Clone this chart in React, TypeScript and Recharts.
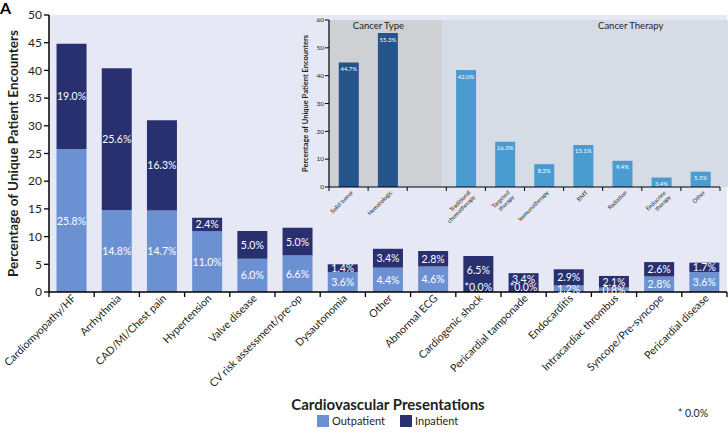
import { BarChart, Bar, XAxis, YAxis, CartesianGrid, Legend, LabelList, ReferenceArea, Cell } from 'recharts';

// main chart
const categories = [
    'Cardiomyopathy/HF', 'Arrhythmia', 'CAD/MI/Chest pain', 'Hypertension', 'Valve disease',
    'CV risk assessment/pre-op', 'Dysautonomia', 'Other', 'Abnormal ECG', 'Cardiogenic shock',
    'Pericardial tamponade', 'Endocarditis', 'Intracardiac thrombus', 'Syncope/Pre-syncope', 'Pericardial disease',
];
const outpatient = [25.8, 14.8, 14.7, 11.0, 6.0, 6.6, 3.6, 4.4, 4.6, 0.0, 0.0, 1.2, 0.8, 2.8, 3.6];
const inpatient = [19.0, 25.6, 16.3, 2.4, 5.0, 5.0, 1.4, 3.4, 2.8, 6.5, 3.4, 2.9, 2.1, 2.6, 1.7];
const yTicks = [0, 5, 10, 15, 20, 25, 30, 35, 40, 45, 50];
const legendOrder = ['Outpatient', 'Inpatient'];

// inset chart
const insetCategories = [
    'Solid tumor', 'Hematologic', '', 'Traditional chemotherapy', 'Targeted therapy',
    'Immunotherapy', 'BMT', 'Radiation', 'Endocrine therapy', 'Other',
];
const insetTickLines = [
    ['Solid tumor'], ['Hematologic'], [], ['Traditional', 'chemotherapy'], ['Targeted', 'therapy'],
    ['Immunotherapy'], ['BMT'], ['Radiation'], ['Endocrine', 'therapy'], ['Other'],
];
const insetValues = [44.7, 55.3, null, 42.0, 16.3, 8.2, 15.1, 9.4, 3.4, 5.5];
const insetGroups = ['type', 'type', '', 'therapy', 'therapy', 'therapy', 'therapy', 'therapy', 'therapy', 'therapy'];
const insetYTicks = [0, 10, 20, 30, 40, 50, 60];
// group split on slot scale (0..10)
const groupAreas = [
    { title: 'Cancer Type', from: 0, to: 2.6, fill: '#cfd0d4', dx: -7 },
    { title: 'Cancer Therapy', from: 2.6, to: 10, fill: '#d5dce6', dx: 28 },
];

const mainData = categories.map((name, i) => ({ name, outpatient: outpatient[i], inpatient: inpatient[i] }));
const insetData = insetCategories.map((name, i) => ({ name, value: insetValues[i], group: insetGroups[i], lines: insetTickLines[i] }));

const OUT_COLOR = '#6b91d2';
const IN_COLOR = '#28306f';
const TEXT = '#231f20';

const pct = (v) => `${v.toFixed(1)}%`;

const outLabel = (props) => {
    const { x, y, width, height, value } = props;
    if (!value) return null;
    return (
        <text x={x + width / 2} y={y + height / 2} fill="#fff" fontSize={10.5} textAnchor="middle" dominantBaseline="central">{pct(value)}</text>
    );
};

// inpatient label, plus the "*0.0%" marker when the outpatient part is empty
const inLabel = (props) => {
    const { x, y, width, height, value, index } = props;
    if (value == null) return null;
    const zeroOut = outpatient[index] === 0;
    return (
        <g>
            <text x={x + width / 2} y={y + height / 2 - (zeroOut ? 4 : 0)} fill="#fff" fontSize={10.5} textAnchor="middle" dominantBaseline="central">{pct(value)}</text>
            {zeroOut && (
                <text x={x + width / 2} y={y + height - 5} fill="#fff" fontSize={10.5} textAnchor="middle" dominantBaseline="central">*0.0%</text>
            )}
        </g>
    );
};

const MainTick = (props) => {
    const { x, y, payload, index } = props;
    const half = payload.offset || 22.5;
    const ax = x + 5;
    const ay = y + 7;
    return (
        <g>
            <line x1={x - half} x2={x - half} y1={y} y2={y + 5} stroke="#000" strokeWidth={1.3} />
            {index === categories.length - 1 && <line x1={x + half} x2={x + half} y1={y} y2={y + 5} stroke="#000" strokeWidth={1.3} />}
            <text x={ax} y={ay} transform={`rotate(-45 ${ax} ${ay})`} textAnchor="end" fontSize={10.7} fill={TEXT}>{payload.value}</text>
        </g>
    );
};

const InsetTick = (props) => {
    const { x, y, payload, index } = props;
    const half = payload.offset || 19.6;
    const lines = insetTickLines[index] || [];
    const ax = x + 5;
    const ay = y + 6;
    return (
        <g>
            <line x1={x - half} x2={x - half} y1={y} y2={y + 4} stroke="#000" strokeWidth={1} />
            {index === insetCategories.length - 1 && <line x1={x + half} x2={x + half} y1={y} y2={y + 4} stroke="#000" strokeWidth={1} />}
            <text x={ax} y={ay} transform={`rotate(-45 ${ax} ${ay})`} textAnchor="end" fontSize={5.8} fill={TEXT}>
                {lines.map((l, i) => <tspan key={i} x={ax} dy={i === 0 ? 0 : '1.15em'}>{l}</tspan>)}
            </text>
        </g>
    );
};

const insetLabel = (props) => {
    const { x, y, width, value } = props;
    if (value == null) return null;
    return (
        <text x={x + width / 2} y={y + 6} fill="#fff" fontSize={6} textAnchor="middle" dominantBaseline="central">{pct(value)}</text>
    );
};

const LegendContent = ({ payload }) => {
    const items = [...(payload || [])].sort((a, b) => legendOrder.indexOf(a.value) - legendOrder.indexOf(b.value));
    return (
        <div style={{ display: 'flex', alignItems: 'center', fontSize: 11, color: TEXT }}>
            {items.map((entry, i) => (
                <div key={i} style={{ display: 'flex', alignItems: 'center', width: 83 }}>
                    <span style={{ display: 'inline-block', width: 12, height: 12, background: entry.color, marginRight: 3 }} />
                    <span>{entry.value}</span>
                </div>
            ))}
        </div>
    );
};

const App = () => {
    return (
        <div style={{ position: 'absolute', left: 0, top: 0, width: 728, height: 434, fontFamily: 'Lato, sans-serif', background: '#fff' }}>
            <BarChart width={728} height={434} data={mainData} margin={{ top: 15, right: 1, left: 0, bottom: 0 }} barCategoryGap="16.7%">
                <CartesianGrid fill="#e6e9f5" stroke="none" horizontal={false} vertical={false} />
                <XAxis
                    dataKey="name"
                    type="category"
                    interval={0}
                    height={142}
                    tickSize={0}
                    tickMargin={0}
                    tickLine={false}
                    axisLine={{ stroke: '#000', strokeWidth: 1.5 }}
                    tick={<MainTick />}
                    label={{
                        value: 'Cardiovascular Presentations',
                        content: ({ viewBox }) => (
                            <g>
                                <text x={viewBox.x + viewBox.width / 2} y={viewBox.y + 118} textAnchor="middle" fontSize={15} fontWeight="bold" fill={TEXT}>Cardiovascular Presentations</text>
                                <text x={693} y={viewBox.y + 125} textAnchor="middle" fontSize={10.5} fill={TEXT}>* 0.0%</text>
                            </g>
                        ),
                    }}
                />
                <YAxis
                    type="number"
                    domain={[0, 50]}
                    ticks={yTicks}
                    interval={0}
                    width={49}
                    tickSize={5}
                    tickMargin={2}
                    tick={{ fontSize: 12, fill: TEXT }}
                    tickLine={{ stroke: '#000', strokeWidth: 1.3 }}
                    axisLine={{ stroke: '#000', strokeWidth: 1.5 }}
                    label={{
                        value: 'Percentage of Unique Patient Encounters',
                        content: ({ viewBox }) => {
                            const cx = viewBox.x + 13;
                            const cy = viewBox.y + viewBox.height / 2;
                            return (
                                <g>
                                    <text x={0} y={14} fontSize={16} fontWeight="bold" fill="#000">A</text>
                                    <text x={cx} y={cy} transform={`rotate(-90 ${cx} ${cy})`} textAnchor="middle" dominantBaseline="central" fontSize={13.5} fontWeight="bold" fill={TEXT}>
                                        Percentage of Unique Patient Encounters
                                    </text>
                                </g>
                            );
                        },
                    }}
                />
                <Legend
                    layout="horizontal"
                    verticalAlign="middle"
                    align="center"
                    content={<LegendContent />}
                    wrapperStyle={{ left: 317, top: 414, width: 'auto', height: 14 }}
                />
                <Bar dataKey="outpatient" name="Outpatient" stackId="a" fill={OUT_COLOR} isAnimationActive={false}>
                    <LabelList dataKey="outpatient" content={outLabel} />
                </Bar>
                <Bar dataKey="inpatient" name="Inpatient" stackId="a" fill={IN_COLOR} isAnimationActive={false}>
                    <LabelList dataKey="inpatient" content={inLabel} />
                </Bar>
            </BarChart>

            <div style={{ position: 'absolute', left: 290, top: 10 }}>
                <BarChart width={438} height={230} data={insetData} margin={{ top: 10, right: 8, left: 0, bottom: 0 }} barCategoryGap="25%">
                    <XAxis xAxisId="slots" type="number" domain={[0, 10]} hide />
                    {groupAreas.map((g, i) => (
                        <ReferenceArea
                            key={i}
                            xAxisId="slots"
                            x1={g.from}
                            x2={g.to}
                            y1={0}
                            y2={60}
                            fill={g.fill}
                            fillOpacity={1}
                            stroke="none"
                            ifOverflow="visible"
                            label={{
                                value: g.title,
                                content: ({ viewBox }) => (
                                    <text x={viewBox.x + viewBox.width / 2 + g.dx} y={viewBox.y + 9} textAnchor="middle" fontSize={9.5} fill={TEXT}>{g.title}</text>
                                ),
                            }}
                        />
                    ))}
                    <XAxis
                        dataKey="name"
                        type="category"
                        interval={0}
                        height={53}
                        tickSize={0}
                        tickMargin={0}
                        tickLine={false}
                        axisLine={{ stroke: '#000', strokeWidth: 1.2 }}
                        tick={<InsetTick />}
                    />
                    <YAxis
                        type="number"
                        domain={[0, 60]}
                        ticks={insetYTicks}
                        interval={0}
                        width={39}
                        tickSize={4}
                        tickMargin={1}
                        tick={{ fontSize: 6.5, fill: TEXT }}
                        tickLine={{ stroke: '#000', strokeWidth: 1 }}
                        axisLine={{ stroke: '#000', strokeWidth: 1.2 }}
                        label={{
                            value: 'Percentage of Unique Patient Encounters',
                            content: ({ viewBox }) => {
                                const cx = viewBox.x + 15;
                                const cy = viewBox.y + viewBox.height / 2;
                                return (
                                    <text x={cx} y={cy} transform={`rotate(-90 ${cx} ${cy})`} textAnchor="middle" dominantBaseline="central" fontSize={7.5} fontWeight="bold" fill={TEXT}>
                                        Percentage of Unique Patient Encounters
                                    </text>
                                );
                            },
                        }}
                    />
                    <Bar dataKey="value" isAnimationActive={false}>
                        {insetData.map((d, i) => (
                            <Cell key={i} fill={d.group === 'type' ? '#24548a' : '#4a9bd0'} />
                        ))}
                        <LabelList dataKey="value" content={insetLabel} />
                    </Bar>
                </BarChart>
            </div>
        </div>
    );
};

export default App;
